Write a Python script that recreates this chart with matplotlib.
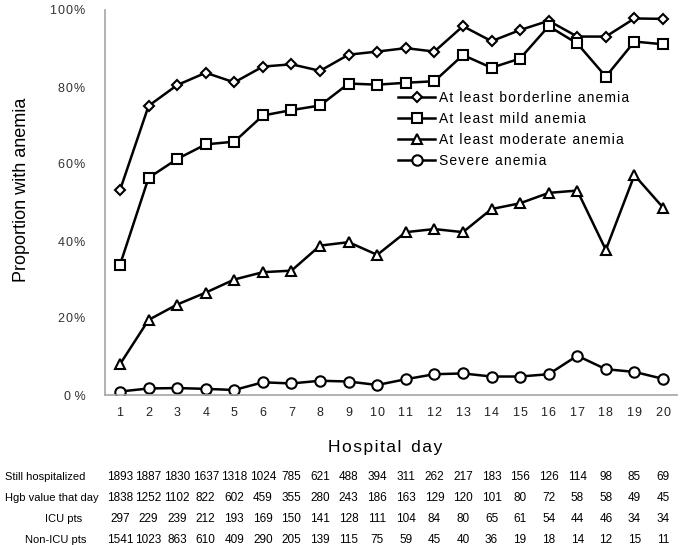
import matplotlib
matplotlib.use("Agg")
import matplotlib.pyplot as plt
from matplotlib.transforms import blended_transform_factory

days = list(range(1, 21))
borderline = [53.2, 75.1, 80.5, 83.7, 81.2, 85.3, 85.9, 84.2, 88.4, 89.2,
              90.1, 89.2, 95.8, 91.9, 94.8, 97.2, 93.1, 93.1, 97.8, 97.7]
mild = [33.8, 56.4, 61.3, 65.1, 65.8, 72.6, 74.0, 75.2, 80.9, 80.6,
        81.1, 81.5, 88.3, 85.0, 87.4, 95.8, 91.3, 82.7, 91.8, 91.1]
moderate = [8.0, 19.5, 23.5, 26.6, 30.0, 31.9, 32.3, 38.8, 39.7, 36.4,
            42.3, 43.1, 42.3, 48.3, 49.8, 52.5, 53.1, 37.7, 57.1, 48.7]
severe = [0.9, 1.7, 1.8, 1.6, 1.3, 3.3, 3.0, 3.7, 3.5, 2.6,
          4.1, 5.4, 5.6, 4.8, 4.8, 5.4, 10.2, 6.7, 6.0, 4.2]

series_names = ["At least borderline anemia", "At least mild anemia",
                "At least moderate anemia", "Severe anemia"]

row_labels = ["Still hospitalized", "Hgb value that day", "ICU pts", "Non-ICU pts"]
still_hosp = [1893, 1887, 1830, 1637, 1318, 1024, 785, 621, 488, 394,
              311, 262, 217, 183, 156, 126, 114, 98, 85, 69]
hgb_value = [1838, 1252, 1102, 822, 602, 459, 355, 280, 243, 186,
             163, 129, 120, 101, 80, 72, 58, 58, 49, 45]
icu_pts = [297, 229, 239, 212, 193, 169, 150, 141, 128, 111,
           104, 84, 80, 65, 61, 54, 44, 46, 34, 34]
non_icu_pts = [1541, 1023, 863, 610, 409, 290, 205, 139, 115, 75,
               59, 45, 40, 36, 19, 18, 14, 12, 15, 11]

FAM = ["Liberation Sans", "DejaVu Sans"]
HS = "\u200a"


def spaced(s):
    return HS.join(s)


W, H = 685, 545
fig = plt.figure(figsize=(W / 100, H / 100), dpi=100)
ax = fig.add_axes([105 / W, 1 - 395 / H, (677 - 105) / W, (395 - 10) / H])

styles = [dict(marker="D", ms=5.0), dict(marker="s", ms=7.5),
          dict(marker="^", ms=7.5), dict(marker="o", ms=7.5)]
for vals, name, st in zip([borderline, mild, moderate, severe], series_names, styles):
    ax.plot(days, vals, color="black", lw=1.8, mfc="white", mec="black",
            mew=1.5, label=spaced(name), **st)

ax.set_xlim(1 - 15 / 28.58, 20 + 14 / 28.58)
ax.set_ylim(0, 100)
ax.set_xticks(days)
ax.set_xticklabels([spaced(str(d)) for d in days], family=FAM, fontsize=9, color="#222222")
yt = [0, 20, 40, 60, 80, 100]
ax.set_yticks(yt)
ax.set_yticklabels([spaced(str(v)) + " %" if v == 0 else spaced(str(v) + "%") for v in yt],
                   family=FAM, fontsize=9, color="#333333")
ax.tick_params(length=0, pad=14)
ax.tick_params(axis="x", pad=9)
for s in ["top", "right"]:
    ax.spines[s].set_visible(False)
for s in ["left", "bottom"]:
    ax.spines[s].set_color("#a6a6a6")
    ax.spines[s].set_linewidth(1.2)

ax.set_ylabel("Proportion with anemia", family=FAM, fontsize=13)
ax.yaxis.set_label_coords((30 - 105) / 572, (395 - 190) / 385)
ax.set_xlabel(HS.join("Hospital") + "  " + HS.join("day"), family=FAM, fontsize=12.5)
ax.xaxis.set_label_coords((385 - 105) / 572, -(440 - 395) / 385)

leg = ax.legend(loc="upper left", bbox_to_anchor=((398 - 105) / 572, (395 - 91) / 385),
                frameon=False, prop={"family": FAM, "size": 10}, handlelength=2.7,
                handletextpad=0.25, labelspacing=0.5, borderpad=0, borderaxespad=0)

trans = blended_transform_factory(ax.transData, fig.transFigure)
rows = [still_hosp, hgb_value, icu_pts, non_icu_pts]
row_y = [477, 498, 519, 540]
label_x = [5, 5, 45, 25]
for lab, vals, y, lx in zip(row_labels, rows, row_y, label_x):
    fig.text(lx / W, 1 - y / H, lab, family=FAM, fontsize=8, va="center", ha="left")
    for d, v in zip(days, vals):
        ax.text(d, 1 - y / H, str(v), transform=trans, family=FAM, fontsize=8.5,
                va="center", ha="center", clip_on=False)

fig.savefig("out.png", dpi=100)
